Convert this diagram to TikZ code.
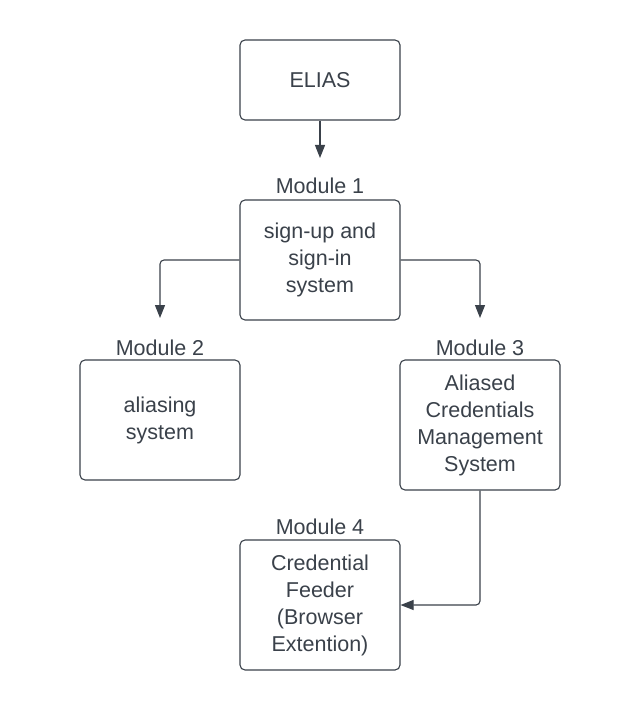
\documentclass[tikz,border=0pt]{standalone}
\usepackage{fontspec}
\setmainfont{Liberation Sans}
\usetikzlibrary{arrows.meta}
\definecolor{ink}{RGB}{58,65,74}
\begin{document}
\begin{tikzpicture}[x=1pt,y=-1pt,
  box/.style={draw=ink, line width=1.1pt, rounded corners=5pt, fill=white,
    minimum width=160pt, align=center, text=ink, inner sep=0pt,
    font=\fontsize{21.5}{27}\selectfont},
  modlabel/.style={text=ink, font=\fontsize{21.5}{25}\selectfont, inner sep=0pt, anchor=base},
  conn/.style={draw=ink, line width=1.1pt, rounded corners=4pt,
    -{Triangle[length=13pt,width=10pt]}}]
\useasboundingbox (0,0) rectangle (640,711);
\node[box, minimum height=80pt] (elias) at (320,80) {ELIAS};
\node[box, minimum height=120pt] (m1) at (320,260) {sign-up and\\sign-in\\system};
\node[box, minimum height=120pt] (m2) at (160,420) {aliasing\\system};
\node[box, minimum height=130pt] (m3) at (480,425) {Aliased\\Credentials\\Management\\System};
\node[box, minimum height=130pt] (m4) at (320,605) {Credential\\Feeder\\(Browser\\Extention)};
\node[modlabel] (l1) at (320,194) {Module 1};
\node[modlabel] (l2) at (160,355) {Module 2};
\node[modlabel] (l3) at (480,355) {Module 3};
\node[modlabel] (l4) at (320,534) {Module 4};
\coordinate (e1) at (320,158);
\coordinate (e2) at (160,318);
\coordinate (e3) at (480,318);
\draw[conn] (elias.south) -- (e1);
\draw[conn] (m1.west) -| (e2);
\draw[conn] (m1.east) -| (e3);
\draw[conn] (m3.south) |- (m4.east);
\end{tikzpicture}
\end{document}
